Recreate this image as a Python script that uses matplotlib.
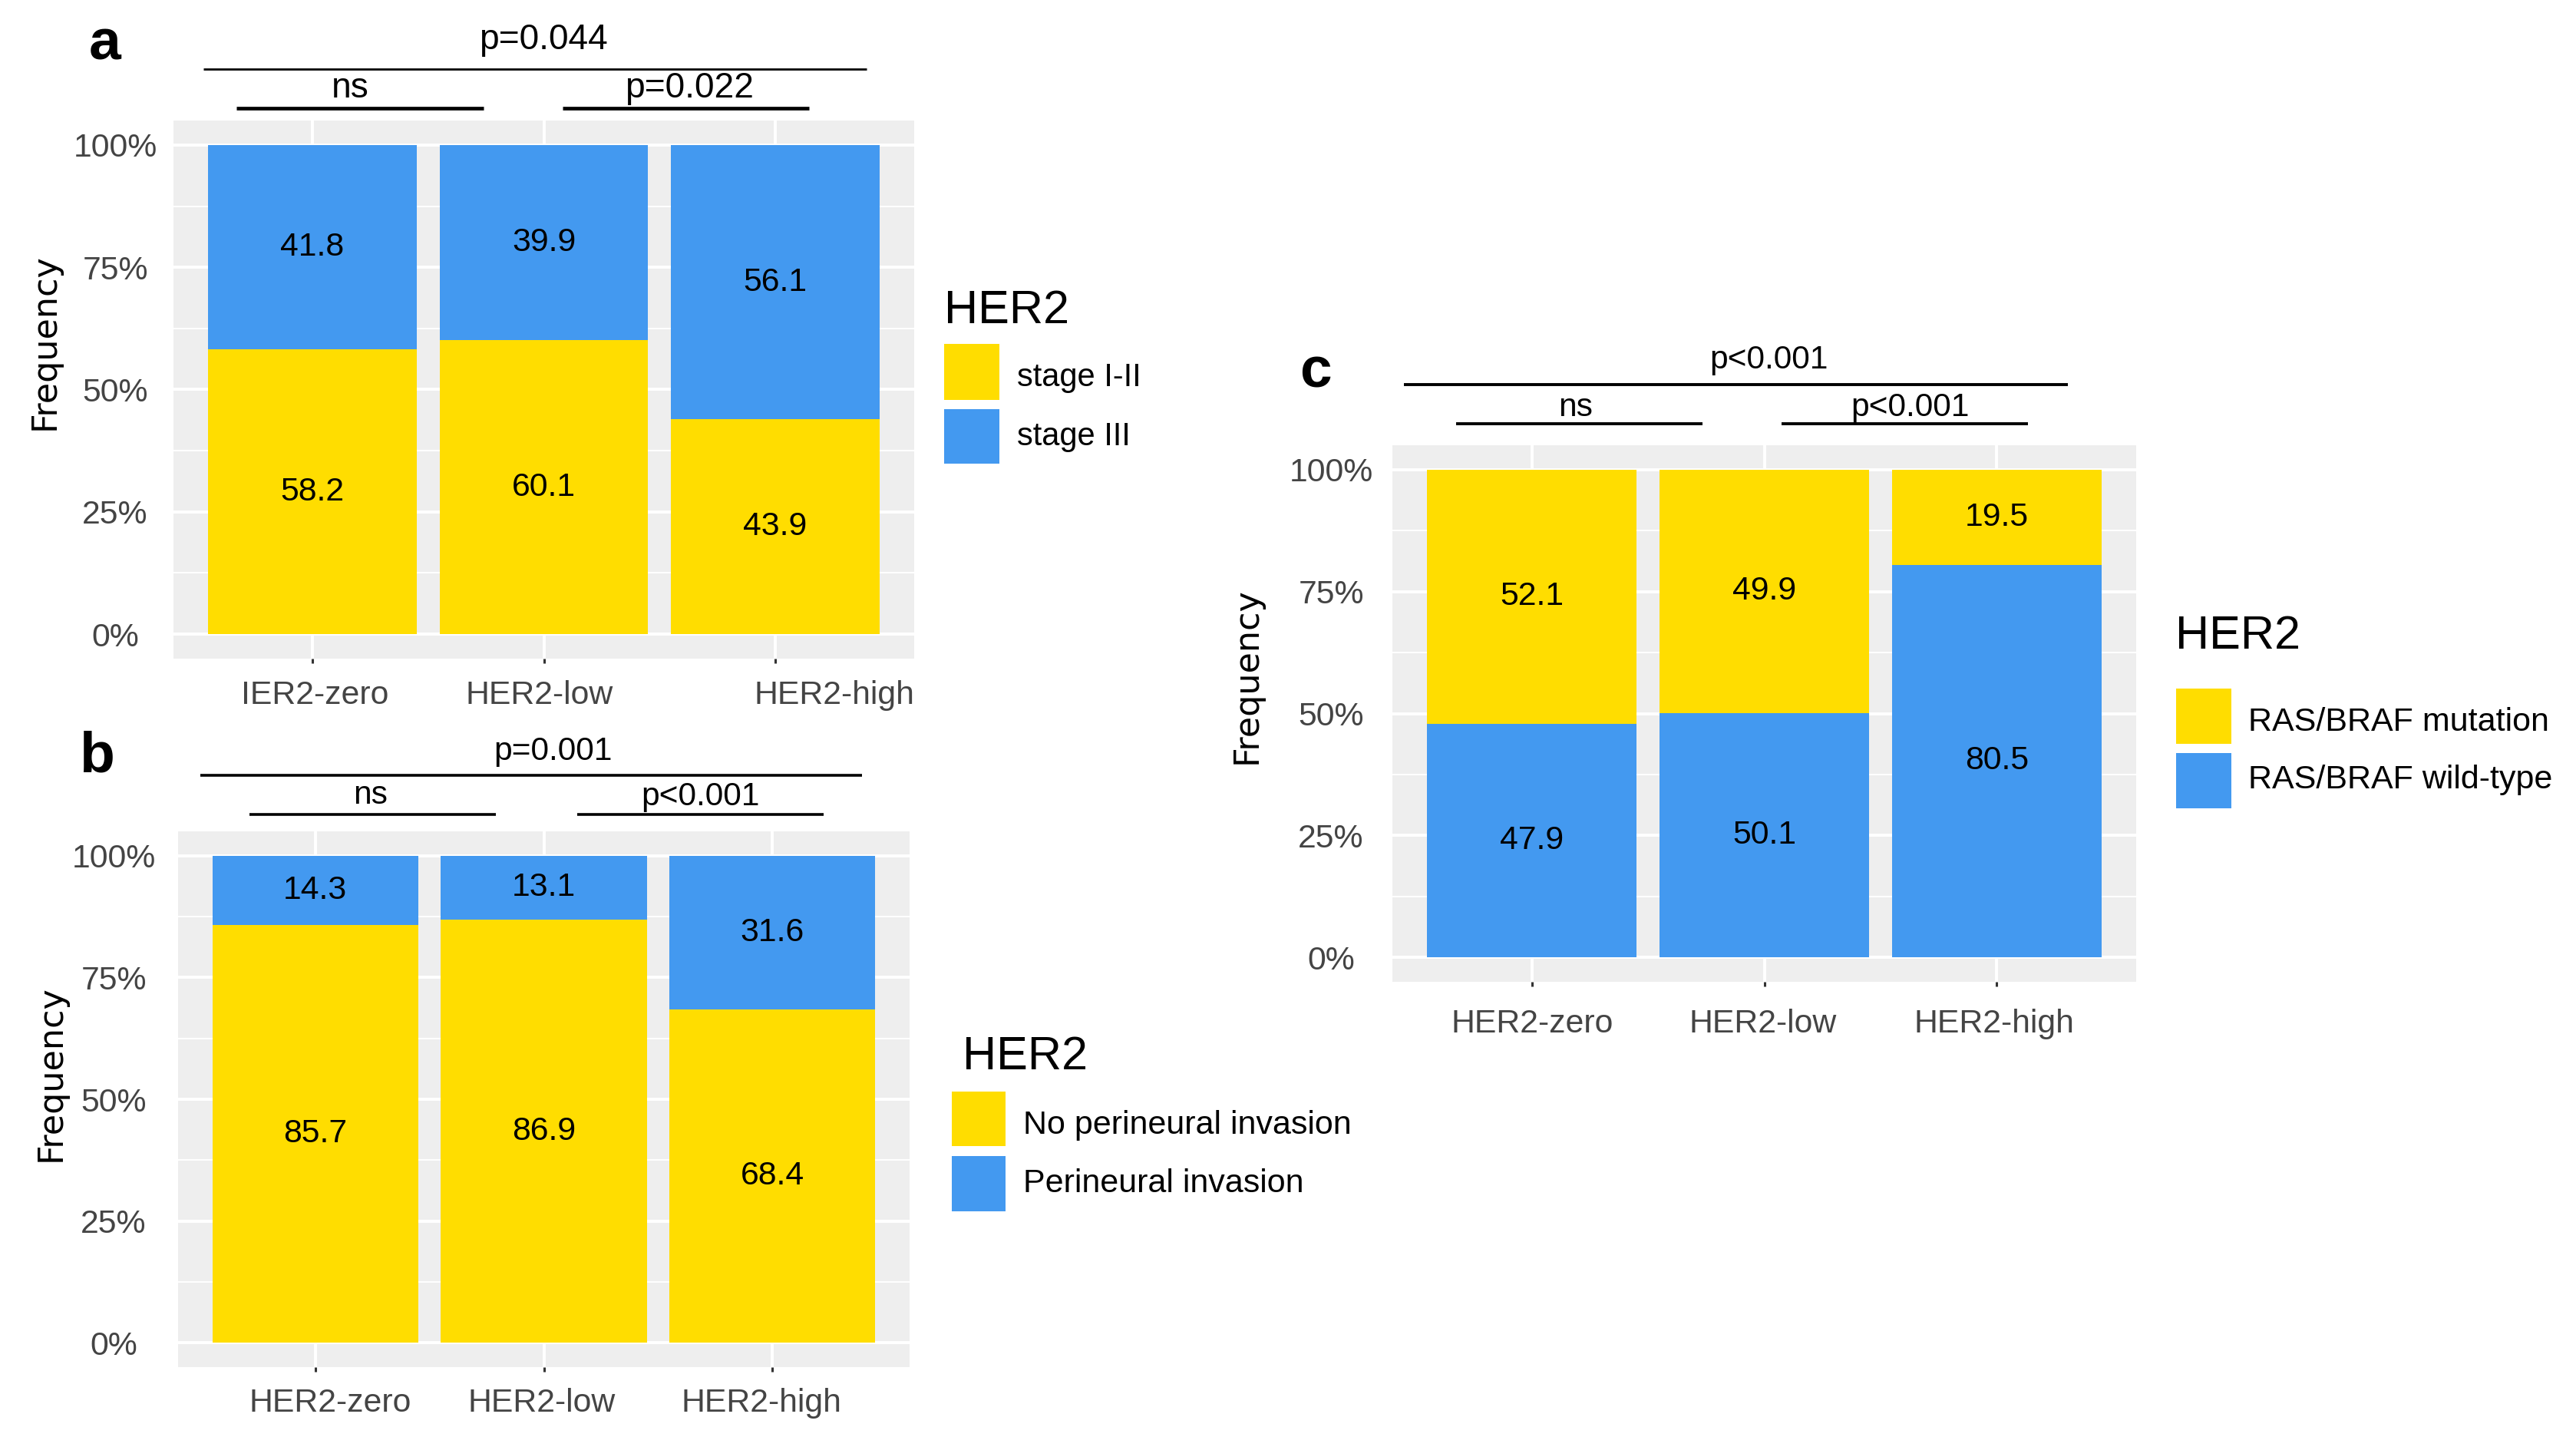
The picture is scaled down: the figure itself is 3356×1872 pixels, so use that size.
import matplotlib
matplotlib.use("Agg")
import matplotlib.pyplot as plt
from matplotlib.lines import Line2D
from matplotlib.patches import Rectangle
from matplotlib.transforms import ScaledTranslation
import numpy as np

# ---------------- data ----------------
groups = ["HER2-zero", "HER2-low", "HER2-high"]
xlabels_a = ["IER2-zero", "HER2-low", "HER2-high"]
xlabels_b = ["HER2-zero", "HER2-low", "HER2-high"]
xlabels_c = ["HER2-zero", "HER2-low", "HER2-high"]

stage_I_II = [58.2, 60.1, 43.9]
stage_III = [41.8, 39.9, 56.1]

no_pni = [85.7, 86.9, 68.4]
pni = [14.3, 13.1, 31.6]

ras_mut = [52.1, 49.9, 19.5]
ras_wild = [47.9, 50.1, 80.5]

legend_a = ["stage I-II", "stage III"]
legend_b = ["No perineural invasion", "Perineural invasion"]
legend_c = ["RAS/BRAF mutation", "RAS/BRAF wild-type"]
legend_title = "HER2"

pvals_a = ["p=0.044", "ns", "p=0.022"]
pvals_b = ["p=0.001", "ns", "p<0.001"]
pvals_c = ["p<0.001", "ns", "p<0.001"]

yticks = [0, 0.25, 0.5, 0.75, 1.0]
ytick_labels = ["0%", "25%", "50%", "75%", "100%"]

# ---------------- style ----------------
YELLOW = "#FFDD00"
BLUE = "#4399F0"
PANEL_BG = "#EEEEEE"
SANS = ["Liberation Sans", "DejaVu Sans"]

W, H = 3356, 1872
DPI = 200
fig = plt.figure(figsize=(W / DPI, H / DPI), dpi=DPI)
fig.patch.set_facecolor("white")


def fx(px):
    return px / W


def fy(py):
    return 1 - py / H


def px2pt(p):
    return p * 72.0 / DPI


def make_panel(box, bottom_vals, top_vals, bottom_col, top_col, xlabels,
               xoffs, xpad, ypad):
    left, top, right, bottom = box
    ax = fig.add_axes([fx(left), fy(bottom), (right - left) / W, (bottom - top) / H])
    ax.set_facecolor(PANEL_BG)
    x = np.arange(1, len(groups) + 1)
    b = np.array(bottom_vals) / 100.0
    t = np.array(top_vals) / 100.0
    ax.bar(x, b, width=0.9, color=bottom_col, linewidth=0, zorder=3)
    ax.bar(x, t, width=0.9, bottom=b, color=top_col, linewidth=0, zorder=3)
    for xi, bv, tv, braw, traw in zip(x, b, t, bottom_vals, top_vals):
        ax.text(xi, bv / 2, f"{braw:.1f}", ha="center", va="center",
                fontsize=15.4, family=SANS, color="black", zorder=4)
        ax.text(xi, bv + tv / 2, f"{traw:.1f}", ha="center", va="center",
                fontsize=15.4, family=SANS, color="black", zorder=4)
    ax.set_xlim(0.4, 3.6)
    ax.set_ylim(-0.05, 1.05)
    ax.set_xticks(x)
    ax.set_xticklabels(xlabels, family=SANS)
    ax.set_yticks(yticks)
    ax.set_yticklabels(ytick_labels, family=SANS)
    ax.set_yticks([0.125, 0.375, 0.625, 0.875], minor=True)
    ax.grid(which="major", color="white", linewidth=1.4, zorder=0)
    ax.grid(which="minor", axis="y", color="white", linewidth=0.7, zorder=0)
    ax.set_axisbelow(True)
    for s in ax.spines.values():
        s.set_visible(False)
    ax.tick_params(axis="x", which="major", length=2.0, width=1.1, color="#333333",
                   labelsize=15.4, labelcolor="#444444", pad=xpad)
    ax.tick_params(axis="y", which="major", length=0, labelsize=15.4,
                   labelcolor="#444444", pad=ypad)
    ax.tick_params(axis="y", which="minor", length=0)
    for lbl, dx in zip(ax.get_xticklabels(), xoffs):
        lbl.set_transform(lbl.get_transform() +
                          ScaledTranslation(dx / DPI, 0, fig.dpi_scale_trans))
    for lbl in ax.get_yticklabels():
        lbl.set_horizontalalignment("center")
    return ax


def hline(x1, x2, y, lw):
    fig.add_artist(Line2D([fx(x1), fx(x2)], [fy(y), fy(y)], transform=fig.transFigure,
                          color="black", linewidth=lw, solid_capstyle="butt"))


def ftext(x, y, s, size, **kw):
    fig.text(fx(x), fy(y), s, fontsize=size, **kw)


def legend(title_xy, keys, labels_x, baselines, labels, colors, label_size):
    ftext(title_xy[0], title_xy[1], legend_title, 22, family=SANS,
          ha="left", va="baseline")
    for (kx1, ky1, kx2, ky2), base, lab, col in zip(keys, baselines, labels, colors):
        fig.add_artist(Rectangle((fx(kx1), fy(ky2)), (kx2 - kx1) / W, (ky2 - ky1) / H,
                                 transform=fig.transFigure, facecolor=col,
                                 edgecolor="none"))
        ftext(labels_x, base, lab, label_size, family=SANS, ha="left", va="baseline")


# ---------------- panel a ----------------
make_panel((226, 157, 1191, 858), stage_I_II, stage_III, YELLOW, BLUE, xlabels_a,
           xoffs=[3, -6, 77], xpad=px2pt(22), ypad=px2pt(76))
hline(265, 1129, 90, 1.0)
hline(308, 630, 141, 1.7)
hline(733, 1054, 141, 1.7)
ftext(708, 64, pvals_a[0], 16.6, family=SANS, ha="center", va="baseline")
ftext(456, 127, pvals_a[1], 16.6, family=SANS, ha="center", va="baseline")
ftext(898, 127, pvals_a[2], 16.6, family=SANS, ha="center", va="baseline")
ftext(116, 77, "a", 27, family=SANS, weight="bold", ha="left", va="baseline")
ftext(58, 445, "Frequency", 16, family="DejaVu Sans", rotation=90,
      ha="center", va="center")
legend((1230, 421), [(1230, 448, 1302, 521), (1230, 533, 1302, 604)], 1325,
       [503, 580], legend_a, [YELLOW, BLUE], 15)

# ---------------- panel b ----------------
make_panel((232, 1083, 1185, 1781), no_pni, pni, YELLOW, BLUE, xlabels_b,
           xoffs=[20, -3, -14], xpad=px2pt(21), ypad=px2pt(84))
hline(261, 1123, 1010, 1.3)
hline(325, 646, 1061, 1.3)
hline(752, 1073, 1061, 1.3)
ftext(720, 990, pvals_b[0], 15.3, family=SANS, ha="center", va="baseline")
ftext(483, 1047, pvals_b[1], 15.3, family=SANS, ha="center", va="baseline")
ftext(913, 1049, pvals_b[2], 15.3, family=SANS, ha="center", va="baseline")
ftext(103, 1005, "b", 27, family=SANS, weight="bold", ha="left", va="baseline")
ftext(66, 1398, "Frequency", 16, family="DejaVu Sans", rotation=90,
      ha="center", va="center")
legend((1254, 1393), [(1240, 1422, 1310, 1493), (1240, 1506, 1310, 1578)], 1333,
       [1477, 1553], legend_b, [YELLOW, BLUE], 15.5)

# ---------------- panel c ----------------
make_panel((1814, 580, 2783, 1279), ras_wild, ras_mut, BLUE, YELLOW, xlabels_c,
           xoffs=[0, -2, -3], xpad=px2pt(29), ypad=px2pt(80))
hline(1829, 2694, 501, 1.4)
hline(1897, 2218, 552, 1.4)
hline(2321, 2642, 552, 1.4)
ftext(2305, 480, pvals_c[0], 15.3, family=SANS, ha="center", va="baseline")
ftext(2053, 542, pvals_c[1], 15.3, family=SANS, ha="center", va="baseline")
ftext(2489, 542, pvals_c[2], 15.3, family=SANS, ha="center", va="baseline")
ftext(1693, 505, "c", 27, family=SANS, weight="bold", ha="left", va="baseline")
ftext(1624, 880, "Frequency", 16, family="DejaVu Sans", rotation=90,
      ha="center", va="center")
legend((2834, 845), [(2835, 897, 2907, 969), (2835, 981, 2907, 1053)], 2929,
       [952, 1027], legend_c, [YELLOW, BLUE], 15.5)

fig.savefig("out.png", dpi=DPI, facecolor="white")
